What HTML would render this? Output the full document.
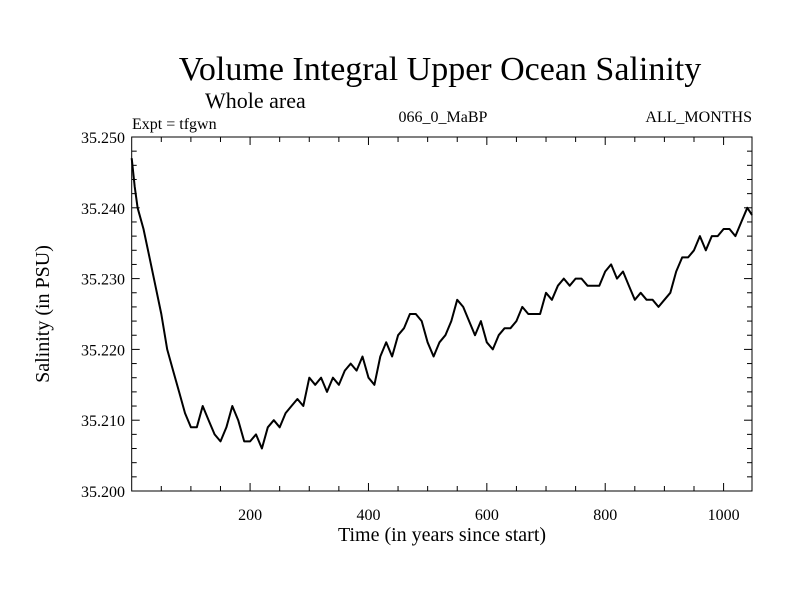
<!DOCTYPE html>
<html><head><meta charset="utf-8"><style>
body{margin:0;background:#fff}
svg text{font-family:"Liberation Serif",serif;fill:#000}
</style></head><body>
<svg id="c" width="800" height="600" xmlns="http://www.w3.org/2000/svg">
<text x="440" y="80" font-size="34" text-anchor="middle">Volume Integral Upper Ocean Salinity</text>
<text x="205" y="108" font-size="22">Whole area</text>
<text x="132" y="129" font-size="16">Expt = tfgwn</text>
<text x="443" y="122" font-size="16" text-anchor="middle">066_0_MaBP</text>
<text x="752" y="122" font-size="16" text-anchor="end">ALL_MONTHS</text>
<text x="442" y="541" font-size="20" text-anchor="middle">Time (in years since start)</text>
<text transform="translate(49,314) rotate(-90)" font-size="20" text-anchor="middle">Salinity (in PSU)</text>
<g id="ax"></g>
<path id="ln" fill="none" stroke="#000" stroke-width="2" stroke-linejoin="round"/>
<rect x="131.7" y="137" width="620.3" height="354" fill="none" stroke="#000" stroke-width="1"/>
</svg>
<script>
const years=[0,5,10,20,30,40,50,60,70,80,90,100,110,120,130,140,150,160,170,180,190,200,210,220,230,240,250,260,270,280,290,300,310,320,330,340,350,360,370,380,390,400,410,420,430,440,450,460,470,480,490,500,510,520,530,540,550,560,570,580,590,600,610,620,630,640,650,660,670,680,690,700,710,720,730,740,750,760,770,780,790,800,810,820,830,840,850,860,870,880,890,900,910,920,930,940,950,960,970,980,990,1000,1010,1020,1030,1040,1048];
const salinity=[35.247,35.243,35.240,35.237,35.233,35.229,35.225,35.220,35.217,35.214,35.211,35.209,35.209,35.212,35.210,35.208,35.207,35.209,35.212,35.210,35.207,35.207,35.208,35.206,35.209,35.210,35.209,35.211,35.212,35.213,35.212,35.216,35.215,35.216,35.214,35.216,35.215,35.217,35.218,35.217,35.219,35.216,35.215,35.219,35.221,35.219,35.222,35.223,35.225,35.225,35.224,35.221,35.219,35.221,35.222,35.224,35.227,35.226,35.224,35.222,35.224,35.221,35.220,35.222,35.223,35.223,35.224,35.226,35.225,35.225,35.225,35.228,35.227,35.229,35.230,35.229,35.230,35.230,35.229,35.229,35.229,35.231,35.232,35.230,35.231,35.229,35.227,35.228,35.227,35.227,35.226,35.227,35.228,35.231,35.233,35.233,35.234,35.236,35.234,35.236,35.236,35.237,35.237,35.236,35.238,35.240,35.239];
const xTicks=[200,400,600,800,1000];
const yTicks=[35.200,35.210,35.220,35.230,35.240,35.250];
const X0=131.7,X1=752,Y0=491,Y1=137,XMIN=0,XMAX=1048,YMIN=35.2,YMAX=35.25;
const xs=v=>X0+(v-XMIN)/(XMAX-XMIN)*(X1-X0);
const ys=v=>Y0-(v-YMIN)/(YMAX-YMIN)*(Y0-Y1);
const NS="http://www.w3.org/2000/svg",ax=document.getElementById('ax');
function mk(t,a){const e=document.createElementNS(NS,t);for(const k in a)e.setAttribute(k,a[k]);ax.appendChild(e);return e;}
for(let v=50;v<XMAX;v+=50){const x=xs(v),L=(v%200===0)?8:5;
 const t1=mk('line',{x1:x,x2:x,y1:Y0,y2:Y0-L,stroke:'#000'});
 
 
 const t2=mk('line',{x1:x,x2:x,y1:Y1,y2:Y1+L,stroke:'#000'});
 
 }
xTicks.forEach(v=>{const t=mk('text',{x:xs(v),y:520,'font-size':16,'text-anchor':'middle'});t.textContent=v;
 
 });
for(let i=1;i<25;i++){const v=YMIN+i*0.002,y=ys(v),L=(i%5===0)?8:5;
 const t1=mk('line',{x1:X0,x2:X0+L,y1:y,y2:y,stroke:'#000'});
 
 
 const t2=mk('line',{x1:X1,x2:X1-L,y1:y,y2:y,stroke:'#000'});
 
 }
yTicks.forEach(v=>{const t=mk('text',{x:125,y:ys(v)+6,'font-size':16,'text-anchor':'end'});t.textContent=v.toFixed(3);
 
 });
document.getElementById('ln').setAttribute('d',years.map((v,i)=>(i?'L':'M')+xs(v).toFixed(1)+','+ys(salinity[i]).toFixed(1)).join(''));
</script>
</body></html>
